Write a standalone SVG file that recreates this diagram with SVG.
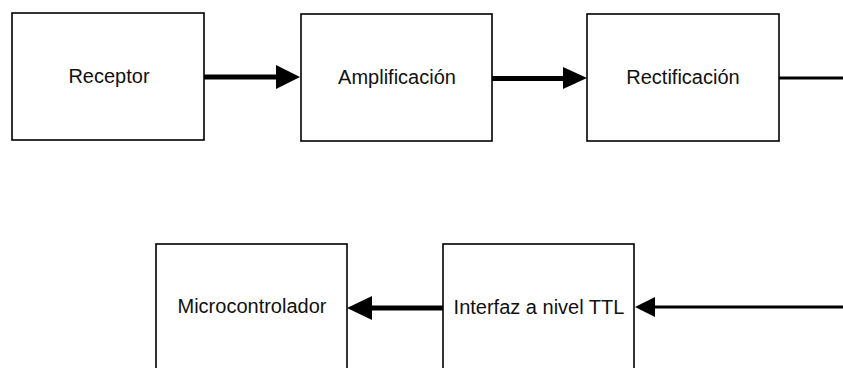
<svg xmlns="http://www.w3.org/2000/svg" width="843" height="368" viewBox="0 0 843 368">
<style>
.box{fill:none;stroke:#000;stroke-width:1.6}
.lbl{font-family:"Liberation Sans",Arial,sans-serif;font-size:20px;fill:#111;text-anchor:middle}
.thick{stroke:#000;stroke-width:5;fill:none}
.thin{stroke:#000;stroke-width:3;fill:none}
.head{fill:#000}
</style>
<rect width="843" height="368" fill="#fff"/>
<g id="receptor"><rect class="box" x="12" y="13" width="192" height="127"/><text class="lbl" x="109" y="83">Receptor</text></g>
<g id="amplificacion"><rect class="box" x="301" y="14" width="191" height="127"/><text class="lbl" x="397" y="84">Amplificación</text></g>
<g id="rectificacion"><rect class="box" x="587" y="14" width="192" height="127"/><text class="lbl" x="683" y="84">Rectificación</text></g>
<g id="microcontrolador"><rect class="box" x="156" y="244" width="191" height="140"/><text class="lbl" x="252" y="313">Microcontrolador</text></g>
<g id="interfaz"><rect class="box" x="443" y="244" width="191" height="140"/><text class="lbl" x="539" y="314">Interfaz a nivel TTL</text></g>
<g id="connectors">
<line class="thick" x1="204" y1="77" x2="278" y2="77"/><polygon class="head" points="276,65 300,77 276,89"/>
<line class="thick" x1="492" y1="78.5" x2="565" y2="78.5"/><polygon class="head" points="563,67 587,78 563,89"/>
<line class="thin" x1="779" y1="78" x2="843" y2="78"/>
<line class="thick" x1="443" y1="308" x2="370" y2="308"/><polygon class="head" points="372,296 347,308 372,320"/>
<line class="thin" x1="843" y1="307" x2="653" y2="307"/><polygon class="head" points="655,297 635,307 655,317"/>
</g>
</svg>
